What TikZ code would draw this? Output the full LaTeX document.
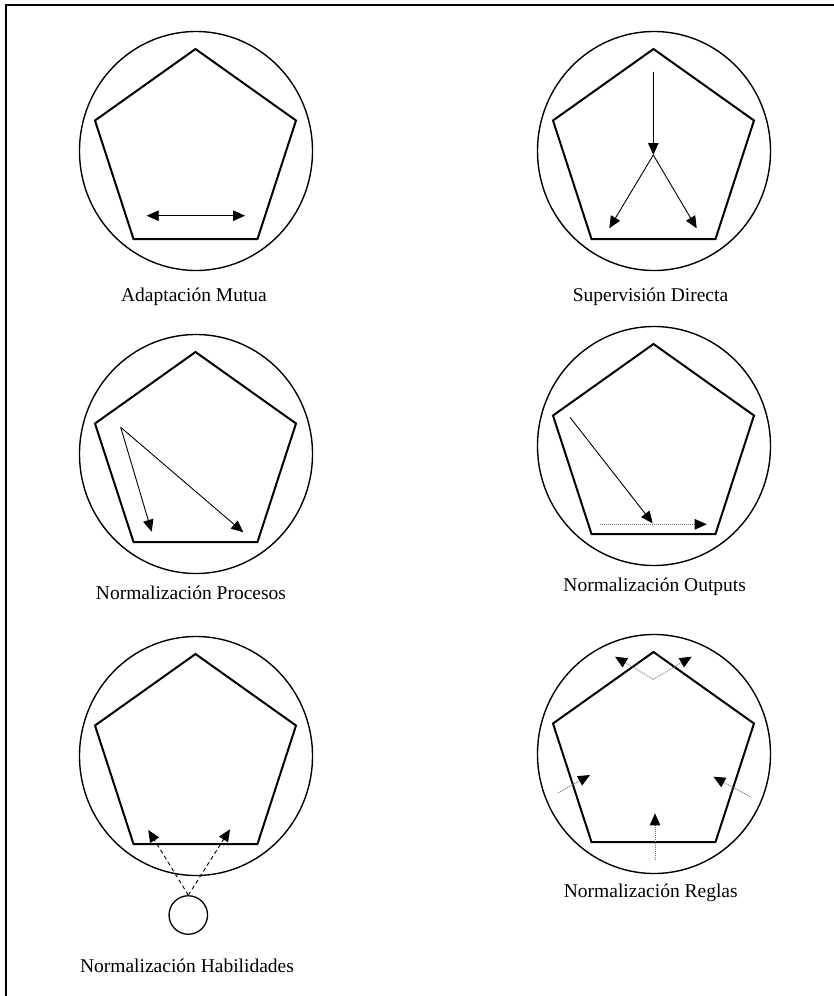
\documentclass[tikz,border=0pt]{standalone}
\usepackage{fontspec}
\setmainfont{Liberation Serif}
\usetikzlibrary{arrows.meta}

\begin{document}
\begin{tikzpicture}[x=1pt,y=-1pt,>={Triangle[length=12pt,width=10.5pt,color=black]},every node/.style={font=\fontsize{19.5}{22}\selectfont},rim/.style={line width=1.4pt},pent/.style={line width=2pt,line join=miter},link/.style={->,line width=0.9pt},dotlink/.style={->,line width=0.9pt,draw=black!55,dash pattern=on 1pt off 1pt},dashlink/.style={->,line width=0.9pt,dash pattern=on 4pt off 3pt}]
\useasboundingbox (0,0) rectangle (834,996);
\draw[line width=1.5pt] (6,996)--(6,5)--(834,5);

% six panels: circle with pentagon
\foreach \n/\cx/\cy in {A/196/151,B/654/151,C/196/454,D/654/446,E/196/756,F/654/754}{
  \coordinate (\n) at (\cx,\cy);
  \draw[rim] (\n) ellipse [x radius=116.5,y radius=119.5];
  \draw[pent,shift={(\cx,\cy)}] (-0.5,-102)--(100,-30.5)--(61.5,88)--(-62.5,88)--(-101,-30.5)--cycle;
}

\node (lblA) at (194,297) {Adaptación Mutua}; \node (lblB) at (650.5,297) {Supervisión Directa};
\node (lblC) at (191,593) {Normalización Procesos}; \node (lblD) at (654.7,586.7) {Normalización Outputs};
\node (lblE) at (187,966) {Normalización Habilidades}; \node (lblF) at (650.8,893.3) {Normalización Reglas};

% Adaptacion mutua
\coordinate (a1) at (146.7,215.7); \coordinate (a2) at (245,215.7);
\draw[link,<->] (a1)--(a2);

% Supervision directa
\coordinate (b0) at (653.3,71.7); \coordinate (b1) at (653.3,155); \coordinate (b2) at (609.3,228.3); \coordinate (b3) at (696.7,228.3);
\draw[link] (b0)--(b1); \draw[link] (b1)--(b2); \draw[link] (b1)--(b3);

% Procesos
\coordinate (c0) at (120.7,427.3); \coordinate (c1) at (151.7,531.7); \coordinate (c2) at (243.3,532.3);
\draw[link] (c0)--(c1); \draw[link] (c0)--(c2);

% Outputs
\coordinate (d0) at (570,417.3); \coordinate (d1) at (652.7,523.3); \coordinate (d2) at (600,524.3); \coordinate (d3) at (706.7,524.3);
\draw[link] (d0)--(d1); \draw[dotlink] (d2)--(d3);

% Habilidades
\node[draw,circle,line width=1.3pt,minimum size=38.5pt,inner sep=0pt] (skill) at (188.3,915) {};
\coordinate (e1) at (148.3,830); \coordinate (e2) at (230,829.3);
\draw[dashlink] (skill.north)--(e1); \draw[dashlink] (skill.north)--(e2);

% Reglas
\coordinate (f0) at (653.3,679.3); \coordinate (f1) at (615,656.7); \coordinate (f2) at (691.7,656.7);
\coordinate (f3) at (558.3,792.7); \coordinate (f4) at (590,775); \coordinate (f5) at (750,796.7); \coordinate (f6) at (713.3,776.7);
\coordinate (f7) at (655,860); \coordinate (f8) at (655,813.3);
\draw[dotlink] (f0)--(f1); \draw[dotlink] (f0)--(f2); \draw[dotlink] (f3)--(f4); \draw[dotlink] (f5)--(f6); \draw[dotlink] (f7)--(f8);

\end{tikzpicture}
\end{document}
